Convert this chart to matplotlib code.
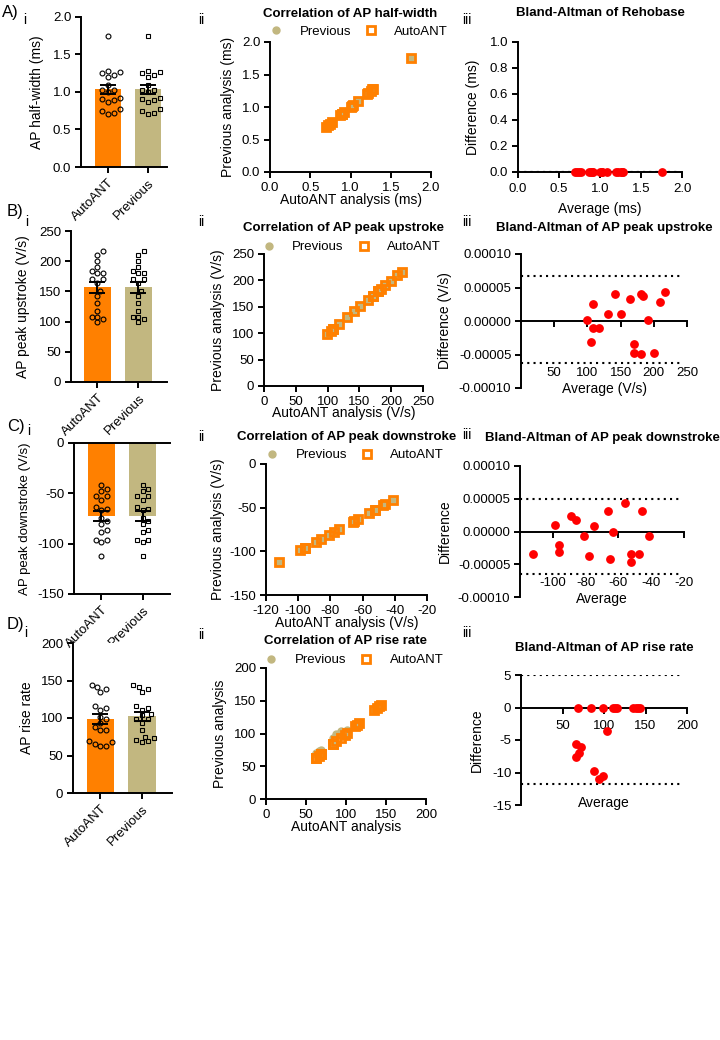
import numpy as np
import matplotlib.pyplot as plt

plt.rcParams['font.family'] = ['Liberation Sans', 'DejaVu Sans']
plt.rcParams['font.size'] = 9.5
plt.rcParams['axes.labelsize'] = 10
plt.rcParams['axes.unicode_minus'] = False
plt.rcParams['axes.linewidth'] = 1.4
plt.rcParams['xtick.major.width'] = 1.4
plt.rcParams['ytick.major.width'] = 1.4
plt.rcParams['xtick.major.size'] = 4.5
plt.rcParams['ytick.major.size'] = 4.5
plt.rcParams['xtick.major.pad'] = 2.5
plt.rcParams['ytick.major.pad'] = 2.5

ORANGE = '#FF8000'
TAN = '#C2B780'
RED = '#FF0000'

groups = ['AutoANT', 'Previous']

# A) AP half-width (ms) - both analyses give the same values
hw_auto = [0.70, 0.72, 0.74, 0.77, 0.87, 0.89, 0.90, 0.92, 1.00,
           1.02, 1.03, 1.09, 1.20, 1.22, 1.25, 1.27, 1.28, 1.75]
hw_prev = [0.70, 0.72, 0.74, 0.77, 0.87, 0.89, 0.90, 0.92, 1.00,
           1.02, 1.03, 1.09, 1.20, 1.22, 1.25, 1.27, 1.28, 1.75]

# B) AP peak upstroke (V/s), difference AutoANT - Previous in 1e-5 V/s
up_auto = [99.0, 105.0, 108.0, 108.0, 118.0, 130.5, 142.0, 150.6, 163.7,
           170.7, 170.7, 180.0, 184.0, 180.0, 190.8, 199.8, 209.8, 216.4]
up_diff = [0.2, -3.2, 2.6, -1.0, -1.0, 1.0, 4.1, 1.1, 3.3,
           -3.5, -4.8, 4.1, 3.8, -5.0, 0.2, -4.8, 2.8, 4.4]

# C) AP peak downstroke (V/s), difference in 1e-5 V/s
down_auto = [-111.9, -98.8, -96.0, -96.0, -88.9, -86.0, -80.8, -77.9, -74.7,
             -66.2, -65.1, -63.1, -56.2, -52.5, -52.5, -47.4, -45.8, -41.3]
down_diff = [-3.5, 1.0, -2.0, -3.2, 2.3, 1.7, -0.7, -3.7, 0.9,
             3.1, -4.2, 0.0, 4.3, -3.5, -4.7, -3.5, 3.2, -0.7]

# D) AP rise rate
rr_auto = [62.7, 63.1, 66.0, 68.3, 68.9, 83.5, 84.3, 88.0, 93.2,
           98.4, 101.4, 111.2, 113.3, 116.0, 135.3, 138.6, 141.4, 143.4]
rr_prev = [70.3, 68.7, 73.0, 68.3, 75.0, 93.2, 84.3, 99.0, 103.8,
           98.4, 105.0, 111.2, 113.3, 116.0, 135.3, 138.6, 141.4, 143.4]

up_prev = list(np.array(up_auto) - np.array(up_diff) * 1e-5)
down_prev = list(np.array(down_auto) - np.array(down_diff) * 1e-5)

W, H = 720, 1040
fig = plt.figure(figsize=(W / 100, H / 100), dpi=100)


def add_ax(box):
    l, t, r, b = box
    ax = fig.add_axes([l / W, 1 - b / H, (r - l) / W, (b - t) / H])
    ax.spines['top'].set_visible(False)
    ax.spines['right'].set_visible(False)
    return ax


def place_labels(ax, box, xlab_y=None, ylab_x=None):
    l, t, r, b = box
    if ylab_x is not None:
        ax.yaxis.label.set_va('center')
        ax.yaxis.set_label_coords((ylab_x - l) / (r - l), 0.5)
    if xlab_y is not None:
        ax.xaxis.label.set_va('center')
        ax.xaxis.set_label_coords(0.5, (b - xlab_y) / (b - t))


def put_title(ax, box, title, y):
    l, t, r, b = box
    ax.set_title(title, fontweight='bold', fontsize=9.5,
                 y=(b - y) / (b - t), va='center', pad=0)


def swarm_x(vals, xc, sx, sy, d=5.4):
    # simple beeswarm in pixel space so the dots don't overlap
    vals = np.asarray(vals, float)
    xs = np.full(len(vals), float(xc))
    placed = []
    for i in np.argsort(vals):
        y = vals[i] * sy
        for k in range(40):
            off = ((k + 1) // 2) * (1 if k % 2 else -1) * d * 0.55
            if all(np.hypot(off - px, y - py) >= d for px, py in placed):
                break
        placed.append((off, y))
        xs[i] = xc + off / sx
    return xs


def bar_panel(box, auto, prev, xlim, ylim, yticks, ylabel, ylab_x, neg=False,
              ylab_size=10):
    ax = add_ax(box)
    l, t, r, b = box
    sx = (r - l) / (xlim[1] - xlim[0])
    sy = (b - t) / (ylim[1] - ylim[0])
    data = [np.asarray(auto), np.asarray(prev)]
    means = [d.mean() for d in data]
    sems = [d.std(ddof=1) / np.sqrt(len(d)) for d in data]
    ax.bar([0, 1], means, width=0.67, color=[ORANGE, TAN], zorder=1)
    for i, (d, m) in enumerate(zip(data, ['o', 's'])):
        ax.plot(swarm_x(d, i, sx, sy), d, m, ms=3.5, mfc='none', mec='black',
                mew=0.8, ls='none', zorder=2, clip_on=False)
    ax.errorbar([0, 1], means, yerr=sems, fmt='none', ecolor='black',
                elinewidth=1.4, capsize=6, capthick=1.4, zorder=3)
    ax.set_xlim(xlim)
    ax.set_ylim(ylim)
    ax.set_yticks(yticks)
    ax.set_xticks([0, 1], groups, rotation=45, ha='right', rotation_mode='anchor')
    ax.set_ylabel(ylabel, fontsize=ylab_size)
    if neg:
        ax.spines['top'].set_visible(True)
    place_labels(ax, box, ylab_x=ylab_x)
    return ax


def corr_panel(box, auto, prev, xlim, xticks, ylim, yticks, title, xlabel,
               ylabel, title_y, leg_y, xlab_y, ylab_x):
    ax = add_ax(box)
    l, t, r, b = box
    ax.plot(auto, prev, 'o', color=TAN, ms=5, ls='none', label='Previous',
            zorder=2, clip_on=False)
    ax.plot(auto, auto, 's', mfc='none', mec=ORANGE, mew=2, ms=6, ls='none',
            label='AutoANT', zorder=3, clip_on=False)
    ax.set_xlim(xlim)
    ax.set_ylim(ylim)
    ax.set_xticks(xticks)
    ax.set_yticks(yticks)
    ax.set_xlabel(xlabel)
    ax.set_ylabel(ylabel)
    ax.legend(loc='center', bbox_to_anchor=(0.53, (b - leg_y) / (b - t)),
              ncol=2, frameon=False, handlelength=2.0, handletextpad=0.8,
              columnspacing=0.5, borderpad=0, fontsize=9.5)
    put_title(ax, box, title, title_y)
    place_labels(ax, box, xlab_y=xlab_y, ylab_x=ylab_x)
    return ax


def ba_panel(box, auto, prev, xlim, xticks, ylim, yticks, yfmt, title,
             xlabel, ylabel, title_y, xlab_y, ylab_x, xpad):
    ax = add_ax(box)
    auto = np.asarray(auto, float)
    prev = np.asarray(prev, float)
    avg = (auto + prev) / 2
    diff = auto - prev
    bias = diff.mean()
    sd = diff.std(ddof=1)
    for lim in (bias + 1.96 * sd, bias - 1.96 * sd):
        ax.axhline(lim, xmin=0, xmax=0.975, color='black', lw=1.5,
                   ls=(0, (1, 2)), zorder=1)
    ax.plot(avg, diff, 'o', color=RED, ms=5.3, ls='none', zorder=4,
            clip_on=False)
    ax.spines['bottom'].set_position(('data', 0))
    ax.set_xlim(xlim)
    ax.set_ylim(ylim)
    ax.set_xticks(xticks)
    ax.set_yticks(yticks, [yfmt.format(v) for v in yticks])
    ax.tick_params(axis='x', pad=xpad)
    ax.set_xlabel(xlabel)
    ax.set_ylabel(ylabel)
    put_title(ax, box, title, title_y)
    place_labels(ax, box, xlab_y=xlab_y, ylab_x=ylab_x)
    return ax


# ---- row A ----
bar_panel((81, 17, 167, 167), hw_auto, hw_prev, (-0.675, 1.475), (0, 2),
          [0, 0.5, 1.0, 1.5, 2.0], 'AP half-width (ms)', 37)
corr_panel((270, 42, 431, 172), hw_auto, hw_prev, (0, 2), [0, 0.5, 1, 1.5, 2],
           (0, 2), [0, 0.5, 1, 1.5, 2], 'Correlation of AP half-width',
           'AutoANT analysis (ms)', 'Previous analysis (ms)', 14, 32, 200, 228)
ba_panel((518, 42, 682, 172), hw_auto, hw_prev, (0, 2), [0, 0.5, 1, 1.5, 2],
         (0, 1), [0, 0.2, 0.4, 0.6, 0.8, 1.0], '{:.1f}',
         'Bland-Altman of Rehobase', 'Average (ms)', 'Difference (ms)',
         13, 209, 473, 3.5)

# ---- row B ----
bar_panel((71, 231, 167, 382), up_auto, up_prev, (-0.646, 1.695), (0, 250),
          [0, 50, 100, 150, 200, 250], 'AP peak upstroke (V/s)', 23)
corr_panel((264, 254, 423, 386), up_auto, up_prev, (0, 250),
           [0, 50, 100, 150, 200, 250], (0, 250), [0, 50, 100, 150, 200, 250],
           'Correlation of AP peak upstroke', 'AutoANT analysis (V/s)',
           'Previous analysis (V/s)', 228, 247, 413, 218)
ba_panel((521, 254, 687, 388), up_auto, up_prev, (0, 250),
         [50, 100, 150, 200, 250], (-1e-4, 1e-4),
         [1e-4, 5e-5, 0, -5e-5, -1e-4], '{:.5f}',
         'Bland-Altman of AP peak upstroke', 'Average (V/s)',
         'Difference (V/s)', 228, 389, 445, 28.5)

# ---- row C ----
bar_panel((74, 443, 170, 594), down_auto, down_prev, (-0.67, 1.67), (-150, 0),
          [0, -50, -100, -150], 'AP peak downstroke (V/s)', 25, neg=True,
          ylab_size=9.5)
corr_panel((266, 464, 427, 595), down_auto, down_prev, (-120, -20),
           [-120, -100, -80, -60, -40, -20], (-150, 0), [0, -50, -100, -150],
           'Correlation of AP peak downstroke', 'AutoANT analysis (V/s)',
           'Previous analysis (V/s)', 437, 455, 623, 218)
ba_panel((520, 466, 684, 597), down_auto, down_prev, (-120, -20),
         [-100, -80, -60, -40, -20], (-1e-4, 1e-4),
         [1e-4, 5e-5, 0, -5e-5, -1e-4], '{:.5f}',
         'Bland-Altman of AP peak downstroke', 'Average', 'Difference',
         438, 599, 445, 28.5)

# ---- row D ----
bar_panel((73, 643, 172, 793), rr_auto, rr_prev, (-0.66, 1.72), (0, 200),
          [0, 50, 100, 150, 200], 'AP rise rate', 27)
corr_panel((266, 668, 426, 799), rr_auto, rr_prev, (0, 200),
           [0, 50, 100, 150, 200], (0, 200), [0, 50, 100, 150, 200],
           'Correlation of AP rise rate', 'AutoANT analysis',
           'Previous analysis', 641, 660, 827, 220)
ba_panel((521, 675, 687, 805), rr_auto, rr_prev, (0, 200),
         [50, 100, 150, 200], (-15, 5), [5, 0, -5, -10, -15], '{:g}',
         'Bland-Altman of AP rise rate', 'Average', 'Difference',
         648, 803, 477, 4.5)

# panel letters
for lab, x, y in [('A)', 2, 13), ('B)', 7, 212), ('C)', 7, 427), ('D)', 7, 624)]:
    fig.text(x / W, 1 - y / H, lab, fontsize=12, ha='left', va='center')
for lab, x, y in [('i', 23, 20), ('i', 25, 222), ('i', 27, 431), ('i', 24, 633),
                  ('ii', 198, 20), ('ii', 198, 222), ('ii', 198, 437), ('ii', 198, 635),
                  ('iii', 462, 20), ('iii', 462, 222), ('iii', 462, 435), ('iii', 462, 633)]:
    fig.text(x / W, 1 - y / H, lab, fontsize=10, ha='left', va='center')

fig.savefig('out.png', dpi=100)
